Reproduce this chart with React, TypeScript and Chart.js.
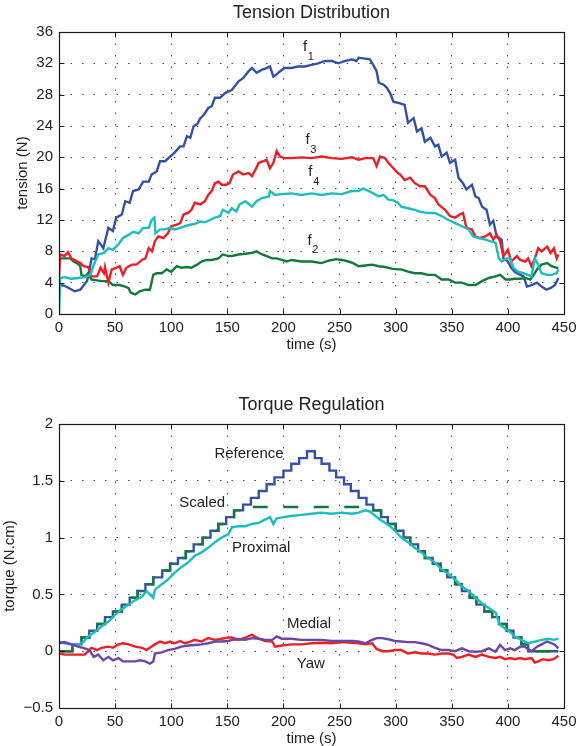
import React, { useEffect, useRef } from 'react';
import { Chart, registerables } from 'chart.js';

Chart.register(...registerables);

type Pt = [number, number];
type Label = { text: string; sub?: string; x: number; y: number };

const FONT = '"Liberation Sans", Arial, Helvetica, sans-serif';
const TEXT_COLOR = '#222222';

// ---------- axis ticks ----------
const timeTicks = [0, 50, 100, 150, 200, 250, 300, 350, 400, 450];
const tensionTicks = [0, 4, 8, 12, 16, 20, 24, 28, 32, 36];
const torqueTicks = [-0.5, 0, 0.5, 1, 1.5, 2];

// ---------- Tension Distribution: [time (s), tension (N)] ----------
const f1: Pt[] = [[0,3.8],[1,3.7],[5,3.6],[14,2.9],[19,3.1],[25,4.2],[27,5.5],[29,7.1],[32,7.0],[35,9.3],[39.5,8.4],[44,11.0],[48,10.6],[51,12.3],[56,12.7],[59,14.4],[63,14.2],[66,15.7],[71,15.9],[75,16.9],[80,16.9],[82.5,17.8],[87,18.2],[90,19.5],[94.5,19.5],[99,20.1],[103,20.6],[108,21.4],[111,21.4],[114,22.7],[117,22.5],[120,24.0],[123,24.2],[126,25.0],[129,25.4],[133,26.3],[136,26.5],[139,27.6],[143.5,27.6],[148,28.2],[154,28.6],[160,29.7],[164,30.1],[169,31.0],[172,31.4],[176,30.8],[181,31.2],[185,31.4],[188,31.6],[191,30.3],[194,30.6],[197,31.0],[201,31.4],[207,31.4],[213,31.6],[219,31.6],[225,31.8],[231,32.0],[237,32.3],[243,32.3],[249,32.0],[255,32.3],[261,32.5],[265,32.3],[267,32.7],[273,32.6],[277,32.5],[280,31.8],[283,31.0],[285,29.5],[289,29.3],[292,28.9],[295,28.2],[298,27.1],[304,26.9],[308,26.7],[311,24.4],[316,25.0],[319,23.3],[323,23.7],[326,22.0],[331,22.5],[335,21.4],[338,21.6],[341,20.1],[345.5,20.6],[348.4,19.3],[353,19.7],[356,17.4],[360,16.7],[363,15.9],[368,16.5],[371,15.0],[374,14.8],[377,13.7],[381,13.3],[384,11.4],[387,11.9],[390,9.9],[394.5,9.5],[396,7.1],[400,6.7],[403,5.9],[406,5.4],[411,5.0],[414,4.8],[417,3.5],[421,3.7],[426,4.0],[430,3.5],[434.5,3.1],[439,3.4],[442,3.7],[445,4.6]];

const f2: Pt[] = [[0,7.0],[1,7.1],[5,7.1],[10,7.1],[13,6.7],[16,6.5],[19,6.1],[20,5.0],[23,4.8],[26,5.2],[29,4.4],[34,4.3],[38,4.2],[44,4.2],[48,3.7],[54,3.7],[59,3.5],[62,3.3],[64,2.7],[68,2.5],[72,2.9],[77,3.1],[81,3.1],[84,5.0],[87,5.2],[91.5,5.2],[96,5.7],[100,5.4],[105,6.1],[109,5.9],[114,6.0],[118,5.9],[123,6.3],[127,6.7],[131.5,6.9],[136,6.9],[142,7.1],[146,7.6],[151,7.4],[154,7.4],[160,7.6],[166,7.7],[172,7.8],[176,8.0],[181,7.6],[185,7.4],[190,7.1],[194,7.1],[198.5,6.9],[203,6.7],[207,6.9],[216,6.7],[225,6.7],[234,6.5],[240,6.8],[247,7.0],[252,6.9],[258,6.7],[262,6.5],[267,6.1],[273,6.2],[279,6.3],[285,6.1],[290.5,6.0],[296.5,5.8],[302,5.7],[305,5.7],[311,5.4],[317,5.2],[323,5.2],[329,5.0],[335,5.0],[341,4.4],[347,4.4],[353,4.0],[359,4.0],[365,3.7],[371,3.7],[377,4.2],[383,4.6],[389,4.8],[393,5.0],[398,4.4],[402,4.4],[406,4.5],[411,4.5],[415.5,4.6],[420,4.4],[423,5.0],[426,5.7],[430,6.3],[435,6.5],[439,6.1],[443.5,5.9],[445,5.9]];

const f3: Pt[] = [[0,4.6],[1,7.6],[5,7.4],[8,7.9],[11,7.1],[14,6.9],[19,6.5],[22,6.1],[26,6.0],[29,4.8],[34,4.8],[37,5.9],[40,5.2],[41,6.0],[44,4.0],[47,5.7],[51,5.9],[54,6.1],[57,5.0],[60,5.9],[65,6.3],[69,6.3],[74,6.9],[77,7.1],[80,8.4],[83,8.0],[85.5,9.3],[88.5,9.9],[93,9.7],[97,10.3],[100,11.2],[105,11.4],[108,11.6],[111,12.7],[115,12.9],[118,13.3],[121,14.2],[126,14.0],[130,14.4],[133,15.2],[136,15.7],[139,16.7],[142,16.9],[145,16.5],[149,16.5],[152,16.7],[155,17.8],[160,18.2],[164,17.8],[169,18.0],[172,17.6],[175,18.4],[178,19.3],[182,19.5],[185,19.7],[188,18.6],[191,19.3],[194,20.8],[197,20.1],[201,19.9],[207,19.9],[216,20.0],[225,19.9],[234,20.1],[243,19.9],[252,19.8],[261,20.0],[267,19.7],[273,19.9],[280,19.9],[283,18.9],[286,20.1],[290.5,19.9],[293.5,19.3],[298,18.6],[302,18.0],[304,17.8],[308,17.1],[313,17.4],[317,16.7],[322,16.3],[326,16.3],[331,15.2],[335,14.8],[338,14.0],[344,13.3],[348.4,12.5],[353,12.3],[357,12.7],[360,12.9],[363,11.0],[368,10.8],[371,9.9],[375,9.7],[380,9.9],[384,10.3],[387,9.5],[390,10.1],[393,9.3],[396,7.4],[400,8.2],[403,6.7],[408,7.4],[411,6.9],[415.5,6.7],[418,7.1],[421,6.1],[424,7.1],[427,8.4],[430,8.0],[435,8.6],[438,7.8],[441,8.4],[443.5,7.1],[445,7.6]];

const f4: Pt[] = [[0,0],[1,4.6],[5,4.7],[11,4.5],[17,4.6],[23,4.7],[28,5.0],[31,6.3],[35,7.6],[40,7.8],[44,8.4],[48,8.2],[53,8.9],[57,9.7],[62,10.1],[66,10.5],[71,10.3],[75,11.0],[80,11.0],[82.5,12.0],[85,12.3],[86,10.3],[90,10.8],[94.5,10.8],[99,11.0],[103,10.8],[108,11.0],[112,11.2],[117,11.4],[121,11.5],[126,11.8],[130,11.7],[134.5,12.0],[139,12.3],[143.5,12.5],[146,13.3],[151,12.9],[154,13.5],[158,13.1],[161,14.0],[166,14.4],[172,13.7],[176,14.4],[181,14.8],[187,15.0],[188,15.7],[192.5,15.2],[198.5,15.3],[207,15.4],[216,15.2],[225,15.4],[234,15.2],[243,15.4],[252,15.3],[261,15.7],[267,15.7],[271,16.0],[276,15.7],[280,15.4],[285,15.0],[289,15.2],[293.5,14.6],[298,14.5],[302,14.2],[305,13.7],[311,13.5],[317,13.3],[323,13.0],[329,12.9],[335,12.9],[341,12.5],[347,12.0],[353,11.6],[359,11.2],[365,10.8],[369,9.9],[374,9.7],[380,9.5],[384,9.3],[389,9.1],[392,7.1],[394.5,6.7],[399,7.1],[402,7.1],[405,5.9],[409,5.4],[414,5.2],[418,5.0],[421,4.8],[424,7.1],[427,6.3],[430,5.2],[435,5.0],[439,5.0],[443.5,5.2],[445,5.7]];

// ---------- Torque Regulation: [time (s), torque (N.cm)] ----------
const reference: Pt[] = [[0,0],[12,0.06],[20,0.12],[27,0.18],[34,0.24],[41,0.30],[48,0.35],[56,0.41],[63,0.47],[70,0.53],[77,0.59],[84,0.65],[92,0.71],[99,0.77],[106,0.82],[113,0.88],[120,0.94],[128,1.00],[135,1.06],[142,1.12],[149,1.18],[156,1.24],[164,1.29],[171,1.35],[178,1.41],[185,1.47],[192,1.53],[200,1.59],[207,1.65],[214,1.70],[221,1.76],[228,1.70],[234,1.65],[241,1.59],[247,1.53],[254,1.47],[260,1.41],[267,1.35],[274,1.29],[280,1.24],[287,1.18],[293,1.12],[300,1.06],[307,1.00],[313,0.94],[320,0.88],[326,0.82],[333,0.77],[340,0.71],[346,0.65],[353,0.59],[359,0.53],[366,0.47],[372,0.41],[379,0.35],[386,0.30],[392,0.24],[399,0.18],[405,0.12],[412,0.06],[418,0.00],[445,0.00]];

const scaled: Pt[] = [[0,0],[12,0.06],[20,0.12],[27,0.18],[34,0.24],[41,0.30],[48,0.35],[56,0.41],[63,0.47],[70,0.53],[77,0.59],[84,0.65],[92,0.71],[99,0.77],[106,0.82],[113,0.88],[120,0.94],[128,1.00],[135,1.06],[142,1.12],[149,1.18],[156,1.24],[164,1.27],[280,1.24],[287,1.18],[293,1.12],[300,1.06],[307,1.00],[313,0.94],[320,0.88],[326,0.82],[333,0.77],[340,0.71],[346,0.65],[353,0.59],[359,0.53],[366,0.47],[372,0.41],[379,0.35],[386,0.30],[392,0.24],[399,0.18],[405,0.12],[412,0.06],[418,0.00],[445,0.00]];

const proximal: Pt[] = [[0,0.085],[5,0.07],[11,0.06],[17,0.055],[22,0.085],[26,0.13],[32,0.17],[38,0.22],[44,0.26],[50,0.32],[56,0.37],[62,0.41],[68,0.45],[74,0.48],[78,0.53],[81,0.50],[84,0.47],[85.5,0.54],[91.5,0.59],[97,0.63],[103,0.69],[109,0.74],[115,0.78],[121,0.84],[127,0.87],[133,0.91],[139,0.96],[145,1.00],[151,1.03],[154,1.09],[160,1.10],[166,1.10],[172,1.12],[178,1.13],[184,1.16],[188,1.18],[191,1.12],[194,1.17],[200,1.18],[207,1.19],[216,1.20],[225,1.21],[234,1.22],[243,1.21],[252,1.22],[261,1.21],[267,1.22],[273,1.24],[277,1.23],[282,1.19],[286,1.16],[290.5,1.13],[295,1.10],[299.4,1.06],[305,1.00],[311,0.96],[317,0.91],[323,0.87],[329,0.82],[335,0.78],[341,0.72],[347,0.68],[353,0.63],[359,0.57],[365,0.53],[371,0.47],[377,0.42],[383,0.38],[389,0.34],[393,0.23],[397.5,0.20],[402,0.17],[406,0.13],[412,0.10],[418,0.07],[424,0.085],[430,0.10],[436,0.11],[441,0.10],[445,0.11]];

const medial: Pt[] = [[0,0.07],[5,0.08],[11,0.06],[17,0.04],[23,0.025],[27,0.01],[31,-0.05],[35,-0.03],[39.5,-0.08],[44,-0.05],[48,-0.08],[53,-0.06],[57,-0.09],[62,-0.09],[68,-0.09],[72,-0.08],[77,-0.09],[81,-0.11],[84,-0.09],[85.5,-0.02],[91.5,-0.01],[97,0.01],[103,0.02],[109,0.04],[115,0.05],[121,0.055],[127,0.06],[133,0.07],[139,0.085],[145,0.085],[151,0.09],[154,0.10],[160,0.105],[166,0.10],[172,0.115],[178,0.11],[184,0.10],[190,0.10],[194,0.13],[198.5,0.11],[207,0.11],[216,0.10],[225,0.10],[234,0.10],[243,0.09],[252,0.09],[261,0.09],[267,0.085],[273,0.07],[279,0.10],[283,0.115],[288,0.115],[293.5,0.105],[299.4,0.09],[305,0.085],[311,0.08],[317,0.08],[323,0.07],[329,0.055],[335,0.03],[341,0.01],[347,0.01],[353,0.0],[359,0.025],[365,0.0],[371,-0.005],[377,0.0],[383,0.025],[389,-0.005],[393,0.055],[397.5,0.01],[402,0.025],[406,0.01],[411,0.04],[415,0.04],[421,0.0],[426,0.04],[430,0.06],[435,0.085],[439,0.07],[442,0.055],[445,0.025]];

const yaw: Pt[] = [[0,-0.02],[5,-0.03],[11,-0.03],[17,-0.03],[23,-0.03],[26,0.0],[29,0.03],[34,0.01],[38,0.03],[44,0.04],[48,0.03],[53,0.06],[57,0.07],[62,0.06],[68,0.04],[74,0.03],[78,0.01],[81,0.03],[85.5,0.06],[90,0.085],[94.5,0.07],[99,0.085],[103,0.07],[108,0.09],[112,0.07],[117,0.085],[121,0.10],[127,0.085],[133,0.115],[139,0.10],[145,0.11],[151,0.12],[154,0.12],[160,0.10],[166,0.12],[172,0.145],[178,0.11],[184,0.09],[190,0.085],[192.5,0.04],[198.5,0.05],[207,0.06],[216,0.06],[225,0.07],[234,0.075],[243,0.07],[252,0.08],[261,0.075],[267,0.07],[273,0.06],[279,0.07],[283,0.02],[288,0.0],[293.5,0.0],[299.4,0.01],[305,0.01],[311,-0.02],[317,-0.01],[323,-0.02],[329,-0.02],[335,-0.03],[341,-0.02],[347,-0.02],[351.5,-0.03],[354.5,-0.06],[359,-0.05],[365,-0.03],[371,-0.05],[377,-0.03],[383,-0.05],[389,-0.06],[393,-0.05],[397.5,-0.07],[402,-0.06],[406,-0.07],[411,-0.06],[415,-0.07],[421,-0.06],[424,-0.10],[427,-0.09],[431.5,-0.07],[436,-0.08],[440.5,-0.07],[445,-0.04]];

// ---------- in-plot labels (data coordinates) ----------
const tensionLabels: Label[] = [
  { text: 'f', sub: '1', x: 219.2, y: 34.1 },
  { text: 'f', sub: '3', x: 221.4, y: 22.2 },
  { text: 'f', sub: '4', x: 223.9, y: 18.1 },
  { text: 'f', sub: '2', x: 223.2, y: 9.4 },
];
const torqueLabels: Label[] = [
  { text: 'Reference', x: 169.3, y: 1.734 },
  { text: 'Scaled', x: 127.6, y: 1.306 },
  { text: 'Proximal', x: 180.2, y: 0.906 },
  { text: 'Medial', x: 222.8, y: 0.245 },
  { text: 'Yaw', x: 224.4, y: -0.115 },
];

const COLORS = {
  blue: '#3352a6',
  green: '#13793b',
  red: '#ec1f26',
  cyan: '#1bbdbd',
  purple: '#6a47a4',
};

const toXY = (a: Pt[]) => a.map(([x, y]) => ({ x, y }));

function makeOverlay(labels: Label[]) {
  return {
    id: 'matlabOverlay',
    afterDatasetsDraw(chart: any) {
      const { ctx } = chart;
      const xs = chart.scales.x;
      const ys = chart.scales.y;
      ctx.save();
      ctx.fillStyle = TEXT_COLOR;
      ctx.textBaseline = 'middle';
      for (const l of labels) {
        const px = xs.getPixelForValue(l.x);
        const py = ys.getPixelForValue(l.y);
        ctx.font = `15px ${FONT}`;
        ctx.textAlign = 'center';
        ctx.fillText(l.text, px, py);
        if (l.sub) {
          const w = ctx.measureText(l.text).width;
          ctx.font = `11px ${FONT}`;
          ctx.textAlign = 'left';
          ctx.fillText(l.sub, px + w / 2 + 0.8, py + 10);
        }
      }
      ctx.restore();
    },
    afterDraw(chart: any) {
      const { ctx, chartArea: a } = chart;
      const xs = chart.scales.x;
      const ys = chart.scales.y;
      const L = Math.round(a.left) + 0.5;
      const R = Math.round(a.right) + 0.5;
      const T = Math.round(a.top) + 0.5;
      const B = Math.round(a.bottom) + 0.5;
      ctx.save();
      ctx.setLineDash([]);
      ctx.strokeStyle = '#1a1a1a';
      ctx.lineWidth = 1;
      ctx.beginPath();
      for (const t of xs.ticks) {
        const p = Math.round(xs.getPixelForValue(t.value)) + 0.5;
        ctx.moveTo(p, B);
        ctx.lineTo(p, B - 5);
        ctx.moveTo(p, T);
        ctx.lineTo(p, T + 5);
      }
      for (const t of ys.ticks) {
        const p = Math.round(ys.getPixelForValue(t.value)) + 0.5;
        ctx.moveTo(L, p);
        ctx.lineTo(L + 5, p);
        ctx.moveTo(R, p);
        ctx.lineTo(R - 5, p);
      }
      ctx.stroke();
      ctx.lineWidth = 1.2;
      ctx.strokeRect(L, T, R - L, B - T);
      ctx.restore();
    },
  };
}

const fmt = (v: number) => {
  const s = String(Math.round(v * 100) / 100);
  return s.replace('-', '\u2212');
};

function buildConfig(opts: {
  title: string;
  yTitle: string;
  yTitlePad: number;
  xTitlePad: number;
  yMin: number;
  yMax: number;
  yTicks: number[];
  datasets: any[];
  labels: Label[];
}) {
  const n = opts.datasets.length;
  const tickFont = { family: FONT, size: 15 };
  return {
    type: 'line' as const,
    data: {
      datasets: opts.datasets.map((d, i) => ({
        pointRadius: 0,
        borderWidth: 2.4,
        fill: false,
        tension: 0,
        order: n - i,
        ...d,
      })),
    },
    options: {
      animation: false as const,
      responsive: false,
      devicePixelRatio: 1,
      layout: { padding: { left: 0, right: 0, top: 0, bottom: 0 } },
      plugins: {
        legend: { display: false },
        tooltip: { enabled: false },
        title: {
          display: true,
          text: opts.title,
          color: TEXT_COLOR,
          font: { family: FONT, size: 18, weight: 'normal' as const, lineHeight: 1.2 },
          padding: { top: 2, bottom: 8.4 },
        },
      },
      scales: {
        x: {
          type: 'linear' as const,
          min: 0,
          max: 450,
          afterBuildTicks: (s: any) => {
            s.ticks = timeTicks.map((v) => ({ value: v }));
          },
          afterFit: (s: any) => {
            s.height = 40;
          },
          grid: { color: '#4a4a4a', lineWidth: 1, drawTicks: false },
          border: { display: false, dash: [1.5, 10] },
          ticks: { color: TEXT_COLOR, font: tickFont, padding: 5, maxRotation: 0, autoSkip: false, callback: (v: any) => fmt(Number(v)) },
          title: {
            display: true,
            text: 'time (s)',
            color: TEXT_COLOR,
            font: { family: FONT, size: 15, lineHeight: 1.2 },
            padding: { top: 0, bottom: opts.xTitlePad },
          },
        },
        y: {
          type: 'linear' as const,
          min: opts.yMin,
          max: opts.yMax,
          afterBuildTicks: (s: any) => {
            s.ticks = opts.yTicks.map((v) => ({ value: v }));
          },
          afterFit: (s: any) => {
            s.width = 59;
          },
          grid: { color: '#4a4a4a', lineWidth: 1, drawTicks: false },
          border: { display: false, dash: [1.5, 10] },
          ticks: { color: TEXT_COLOR, font: tickFont, padding: 6, autoSkip: false, callback: (v: any) => fmt(Number(v)) },
          title: {
            display: true,
            text: opts.yTitle,
            color: TEXT_COLOR,
            font: { family: FONT, size: 15, lineHeight: 1.2 },
            padding: { top: opts.yTitlePad, bottom: 0 },
          },
        },
        // empty right-hand spacer so that the plot box and the title share one centre
        yRight: {
          type: 'linear' as const,
          position: 'right' as const,
          min: 0,
          max: 1,
          display: true,
          afterFit: (s: any) => {
            s.width = 59;
          },
          grid: { display: false, drawTicks: false },
          border: { display: false },
          ticks: { display: false },
          title: { display: false },
        },
      },
    },
    plugins: [makeOverlay(opts.labels)],
  };
}

function ChartBox(props: { config: () => any; top: number; width: number; height: number }) {
  const ref = useRef<HTMLCanvasElement>(null);
  useEffect(() => {
    if (!ref.current) return;
    const chart = new Chart(ref.current, props.config());
    return () => chart.destroy();
  }, []);
  return (
    <canvas
      ref={ref}
      width={props.width}
      height={props.height}
      style={{ position: 'absolute', left: 0, top: props.top, width: props.width, height: props.height, display: 'block' }}
    />
  );
}

const tensionConfig = () =>
  buildConfig({
    title: 'Tension Distribution',
    yTitle: 'tension (N)',
    yTitlePad: 14,
    xTitlePad: 0,
    yMin: 0,
    yMax: 36,
    yTicks: tensionTicks,
    labels: tensionLabels,
    datasets: [
      { label: 'f1', data: toXY(f1), borderColor: COLORS.blue },
      { label: 'f2', data: toXY(f2), borderColor: COLORS.green },
      { label: 'f3', data: toXY(f3), borderColor: COLORS.red },
      { label: 'f4', data: toXY(f4), borderColor: COLORS.cyan },
    ],
  });

const torqueConfig = () =>
  buildConfig({
    title: 'Torque Regulation',
    yTitle: 'torque (N.cm)',
    yTitlePad: 1,
    xTitlePad: 0,
    yMin: -0.5,
    yMax: 2,
    yTicks: torqueTicks,
    labels: torqueLabels,
    datasets: [
      { label: 'Reference', data: toXY(reference), borderColor: COLORS.blue, stepped: 'before' },
      { label: 'Scaled', data: toXY(scaled), borderColor: COLORS.green, stepped: 'before', borderDash: [15, 15.5], borderDashOffset: 28 },
      { label: 'Proximal', data: toXY(proximal), borderColor: COLORS.cyan },
      { label: 'Yaw', data: toXY(yaw), borderColor: COLORS.red },
      { label: 'Medial', data: toXY(medial), borderColor: COLORS.purple },
    ],
  });

export default function App() {
  return (
    <div
      style={{
        position: 'fixed',
        left: 0,
        top: 0,
        width: 585,
        height: 746,
        overflow: 'hidden',
        background: '#ffffff',
      }}
    >
      <ChartBox config={tensionConfig} top={0} width={623} height={354} />
      <ChartBox config={torqueConfig} top={392} width={623} height={356} />
    </div>
  );
}
